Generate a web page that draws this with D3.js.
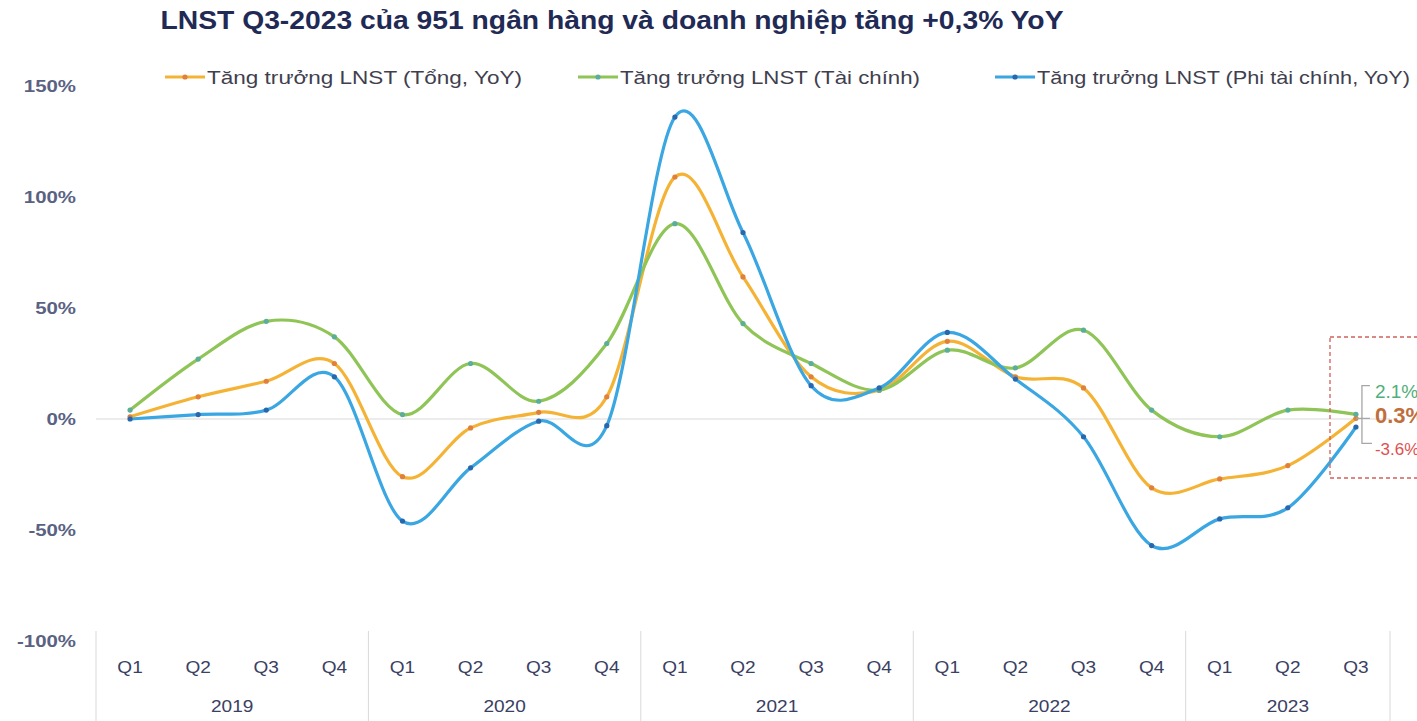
<!DOCTYPE html>
<html>
<head>
<meta charset="utf-8">
<script src="https://cdn.jsdelivr.net/npm/d3@7"></script>
<style>
  html, body { margin: 0; padding: 0; background: #ffffff; }
  svg { display: block; font-family: "Liberation Sans", Arial, sans-serif; }
</style>
</head>
<body>
<svg id="chart" width="1417" height="721"></svg>
<script>
// Quarters and years on the two-level category axis
const years = ["2019", "2020", "2021", "2022", "2023"];
const quartersPerYear = [4, 4, 4, 4, 3];
const quarterLabels = ["Q1", "Q2", "Q3", "Q4"];

// YoY net-profit growth, %
const totalGrowth     = [1, 10, 17, 25, -26, -4, 3, 10, 109, 64, 19, 13, 35, 19, 14, -31, -27, -21, 0.3];
const financialGrowth = [4, 27, 44, 37, 2, 25, 8, 34, 88, 43, 25, 13, 31, 23, 40, 4, -8, 4, 2.1];
const nonFinGrowth    = [0, 2, 4, 19, -46, -22, -1, -3, 136, 84, 15, 14, 39, 18, -8, -57, -45, -40, -3.6];

const seriesNames = [
  "Tăng trưởng LNST (Tổng, YoY)",
  "Tăng trưởng LNST (Tài chính)",
  "Tăng trưởng LNST (Phi tài chính, YoY)"
];
const yTicks = [150, 100, 50, 0, -50, -100];

const series = [
  { name: seriesNames[0], values: totalGrowth,     line: "#F5B335", dot: "#E0803A" },
  { name: seriesNames[1], values: financialGrowth, line: "#8FC456", dot: "#5AAE9A" },
  { name: seriesNames[2], values: nonFinGrowth,    line: "#3AA6E2", dot: "#2866AE" }
];

(function () {
  // Widen a text horizontally by a factor, keeping its anchor
  function stretch(sel, k) {
    sel.each(function () {
      const w = this.getComputedTextLength();
      d3.select(this).attr("textLength", w * k).attr("lengthAdjust", "spacingAndGlyphs");
    });
  }

  // Flat list of categories
  const cats = [];
  years.forEach((yr, i) => {
    for (let q = 0; q < quartersPerYear[i]; q++) cats.push({ year: yr, q: quarterLabels[q], key: yr + "-" + quarterLabels[q] });
  });

  const svg = d3.select("#chart");
  const plotLeft = 96, plotRight = 1390, plotTop = 86, plotBottom = 641;

  const x = d3.scaleBand().domain(cats.map(d => d.key)).range([plotLeft, plotRight]).paddingInner(0).paddingOuter(0);
  const y = d3.scaleLinear().domain([-100, 150]).range([plotBottom, plotTop]);
  const cx = k => x(k) + x.bandwidth() / 2;

  // Title
  svg.append("text")
    .attr("x", 612).attr("y", 29)
    .attr("text-anchor", "middle")
    .attr("font-size", 25).attr("font-weight", "bold")
    .attr("fill", "#1F2A55")
    .attr("textLength", 903).attr("lengthAdjust", "spacingAndGlyphs")
    .text("LNST Q3-2023 của 951 ngân hàng và doanh nghiệp tăng +0,3% YoY");

  // Y axis labels
  const yAxis = d3.axisLeft(y).tickValues(yTicks).tickFormat(d => d + "%").tickSize(0).tickPadding(0);
  const yg = svg.append("g").attr("transform", "translate(76,0)").call(yAxis);
  yg.select(".domain").remove();
  yg.selectAll("text").attr("font-size", 17).attr("font-weight", "bold").attr("fill", "#5A6283")
    .attr("font-family", "'Liberation Sans', Arial, sans-serif");
  stretch(yg.selectAll("text"), 1.2);

  // Zero line
  svg.append("line")
    .attr("x1", plotLeft).attr("x2", plotRight)
    .attr("y1", y(0)).attr("y2", y(0))
    .attr("stroke", "#D9D9D9").attr("stroke-width", 1);

  // Category axis: quarter labels, year labels, year dividers
  const xg = svg.append("g");
  const qText = xg.selectAll("text.q").data(cats).join("text")
    .attr("class", "q")
    .attr("x", d => cx(d.key)).attr("y", 673)
    .attr("text-anchor", "middle")
    .attr("font-size", 17).attr("fill", "#3A4062")
    .text(d => d.q);
  stretch(qText, 1.12);

  let idx = 0;
  const yearSpans = years.map((yr, i) => {
    const first = cats[idx].key, last = cats[idx + quartersPerYear[i] - 1].key;
    idx += quartersPerYear[i];
    return { yr, x0: x(first), x1: x(last) + x.bandwidth() };
  });
  const yrText = xg.selectAll("text.yr").data(yearSpans).join("text")
    .attr("class", "yr")
    .attr("x", d => (d.x0 + d.x1) / 2).attr("y", 712)
    .attr("text-anchor", "middle")
    .attr("font-size", 17).attr("fill", "#3A4062")
    .text(d => d.yr);
  stretch(yrText, 1.12);
  const dividers = [yearSpans[0].x0].concat(yearSpans.map(d => d.x1));
  xg.selectAll("line.div").data(dividers).join("line")
    .attr("class", "div")
    .attr("x1", d => d).attr("x2", d => d)
    .attr("y1", 631).attr("y2", 721)
    .attr("stroke", "#D9D9D9").attr("stroke-width", 1);

  // Smoothed series lines with point markers
  const line = d3.line()
    .x((v, i) => cx(cats[i].key))
    .y(v => y(v))
    .curve(d3.curveCatmullRom.alpha(0));

  const plot = svg.append("g");
  series.forEach(s => {
    plot.append("path")
      .attr("d", line(s.values))
      .attr("fill", "none")
      .attr("stroke", s.line)
      .attr("stroke-width", 3.2)
      .attr("stroke-linejoin", "round");
  });
  series.forEach(s => {
    plot.selectAll(null).data(s.values).join("circle")
      .attr("cx", (v, i) => cx(cats[i].key))
      .attr("cy", v => y(v))
      .attr("r", 2.6)
      .attr("fill", s.dot);
  });

  // Legend
  const legendPos = [165, 578, 995];
  const legendTextLen = [315, 300, 373];
  series.forEach((s, i) => {
    const g = svg.append("g").attr("transform", `translate(${legendPos[i]},77)`);
    g.append("line").attr("x1", 0).attr("x2", 40).attr("y1", 0).attr("y2", 0)
      .attr("stroke", s.line).attr("stroke-width", 3.2);
    g.append("circle").attr("cx", 20).attr("cy", 0).attr("r", 2.6).attr("fill", s.dot);
    g.append("text").attr("x", 42).attr("y", 7)
      .attr("font-size", 19).attr("fill", "#3F3F4F")
      .attr("textLength", legendTextLen[i]).attr("lengthAdjust", "spacingAndGlyphs")
      .text(s.name);
  });

  // Callout on the latest quarter
  const lastKey = cats[cats.length - 1].key;
  const lx = cx(lastKey);
  svg.append("rect")
    .attr("x", 1330).attr("y", 337).attr("width", 110).attr("height", 141)
    .attr("fill", "none").attr("stroke", "#D0605A").attr("stroke-width", 1.3)
    .attr("stroke-dasharray", "4,3");

  const bracket = d3.path();
  bracket.moveTo(lx + 14, y(15)); bracket.lineTo(lx + 6, y(15));
  bracket.lineTo(lx + 6, y(-11)); bracket.lineTo(lx + 16, y(-11));
  bracket.moveTo(lx, y(0.3)); bracket.lineTo(lx + 14, y(0.3));
  svg.append("path").attr("d", bracket.toString())
    .attr("fill", "none").attr("stroke", "#A6A6A6").attr("stroke-width", 1.3);

  const callouts = [
    { v: financialGrowth[financialGrowth.length - 1], yv: 9.5, color: "#4FAF7A", size: 19, weight: "normal" },
    { v: totalGrowth[totalGrowth.length - 1],         yv: -2, color: "#C06F3C", size: 22, weight: "bold" },
    { v: nonFinGrowth[nonFinGrowth.length - 1],       yv: -16, color: "#E0504F", size: 17, weight: "normal" }
  ];
  callouts.forEach(c => {
    svg.append("text")
      .attr("x", lx + 19).attr("y", y(c.yv))
      .attr("font-size", c.size).attr("font-weight", c.weight)
      .attr("fill", c.color)
      .text(c.v.toFixed(1) + "%");
  });
})();
</script>
</body>
</html>
